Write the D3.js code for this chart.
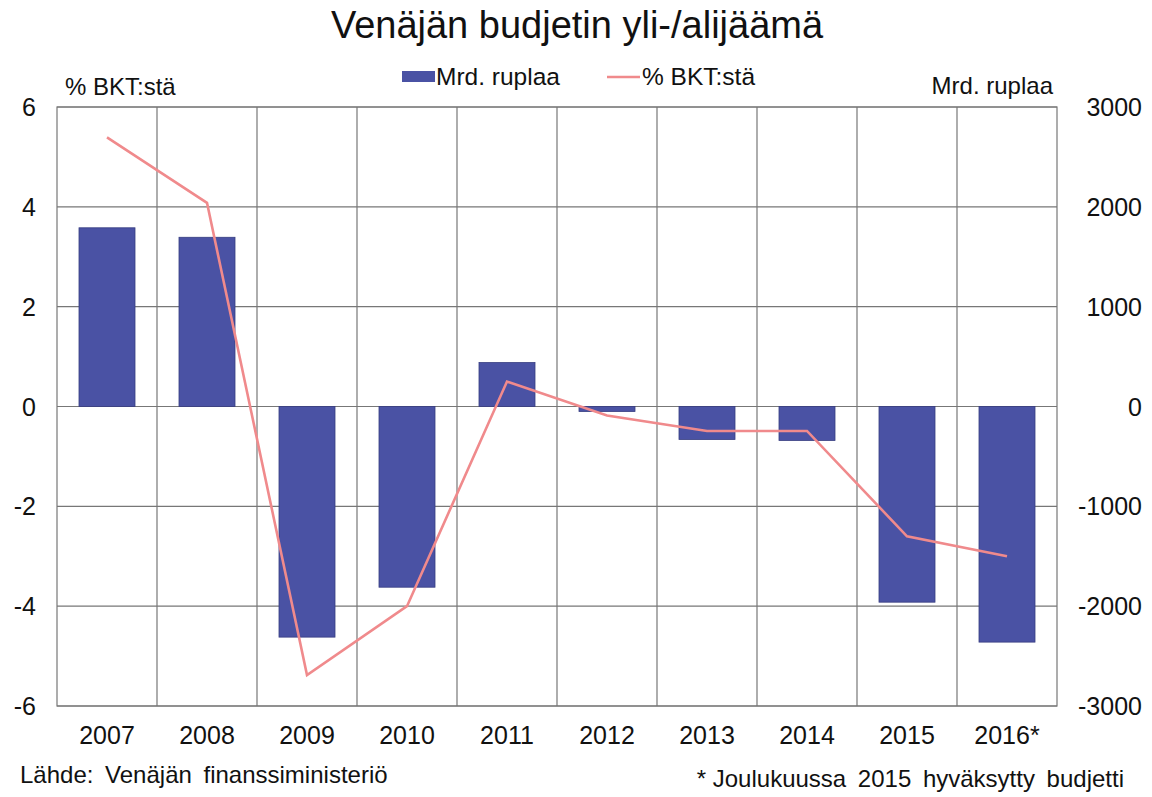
<!DOCTYPE html>
<html><head><meta charset="utf-8">
<script src="https://cdn.jsdelivr.net/npm/d3@7"></script>
<style>body{margin:0;background:#fff;} text{font-family:"Liberation Sans",Arial,sans-serif;fill:#111;}</style>
</head><body>
<svg id="c" width="1152" height="797"></svg>
<script>
const categories = ["2007","2008","2009","2010","2011","2012","2013","2014","2015","2016*"];
const rubles = [1790, 1695, -2310, -1810, 440, -50, -330, -340, -1960, -2360];
const pctGDP = [5.39, 4.08, -5.38, -4.0, 0.5, -0.18, -0.49, -0.49, -2.6, -3.0];
const leftTicks = [-6,-4,-2,0,2,4,6];
const rightTicks = [-3000,-2000,-1000,0,1000,2000,3000];

const svg = d3.select("#c");
const L=57, R=1057, T=107, B=706;
const x = d3.scaleBand().domain(categories).range([L,R]).paddingInner(0.44).paddingOuter(0.22);
const xb = d3.scaleBand().domain(categories).range([L,R]);
const yL = d3.scaleLinear().domain([-6,6]).range([B,T]);
const yR = d3.scaleLinear().domain([-3000,3000]).range([B,T]);

// grid
const g = svg.append("g");
g.selectAll(".h").data(leftTicks).join("line").attr("x1",L).attr("x2",R)
 .attr("y1",d=>yL(d)).attr("y2",d=>yL(d)).attr("stroke","#777").attr("stroke-width",1.2);
g.selectAll(".v").data(categories.slice(1)).join("line").attr("x1",d=>xb(d)).attr("x2",d=>xb(d))
 .attr("y1",T).attr("y2",B).attr("stroke","#777").attr("stroke-width",1.2);
g.append("rect").attr("x",L).attr("y",T).attr("width",R-L).attr("height",B-T).attr("fill","none").attr("stroke","#777").attr("stroke-width",1.2);

// bars
svg.append("g").selectAll("rect").data(rubles).join("rect")
 .attr("x",(d,i)=>x(categories[i])).attr("width",x.bandwidth())
 .attr("y",d=>yR(Math.max(0,d))).attr("height",d=>Math.abs(yR(d)-yR(0)))
 .attr("fill","#4a52a4").attr("stroke","#363c80").attr("stroke-width",0.8);

// line
const line = d3.line().x((d,i)=>xb(categories[i])+xb.bandwidth()/2).y(d=>yL(d));
svg.append("path").datum(pctGDP).attr("d",line).attr("fill","none").attr("stroke","#f08a8c").attr("stroke-width",2.6);

// axes labels
svg.append("g").selectAll("text").data(leftTicks).join("text")
 .attr("x",36).attr("y",d=>yL(d)+9).attr("text-anchor","end").attr("font-size",25).text(d=>d);
svg.append("g").selectAll("text").data(rightTicks).join("text")
 .attr("x",1142).attr("y",d=>yR(d)+9).attr("text-anchor","end").attr("font-size",25).text(d=>d);
svg.append("g").selectAll("text").data(categories).join("text")
 .attr("x",d=>xb(d)+xb.bandwidth()/2).attr("y",744).attr("text-anchor","middle").attr("font-size",25).text(d=>d);

svg.append("text").attr("x",577).attr("y",38).attr("text-anchor","middle").attr("font-size",38).text("Venäjän budjetin yli-/alijäämä");
svg.append("text").attr("x",65).attr("y",95).attr("font-size",24).text("% BKT:stä");
svg.append("text").attr("x",1053).attr("y",94).attr("text-anchor","end").attr("font-size",24).text("Mrd. ruplaa");

// legend
svg.append("rect").attr("x",402).attr("y",71).attr("width",33).attr("height",11).attr("fill","#4a52a4");
svg.append("text").attr("x",436).attr("y",85).attr("font-size",24.5).text("Mrd. ruplaa");
svg.append("line").attr("x1",607).attr("x2",640).attr("y1",77).attr("y2",77).attr("stroke","#f08a8c").attr("stroke-width",2.6);
svg.append("text").attr("x",642).attr("y",85).attr("font-size",24.5).text("% BKT:stä");

svg.append("text").attr("x",20).attr("y",783).attr("font-size",24).attr("word-spacing",5).text("Lähde: Venäjän finanssiministeriö");
const fn = svg.append("text").attr("x",1124).attr("y",787).attr("text-anchor","end").attr("font-size",24);
fn.append("tspan").text("* ");
fn.append("tspan").attr("word-spacing",5).text("Joulukuussa 2015 hyväksytty budjetti");
</script>
</body></html>
